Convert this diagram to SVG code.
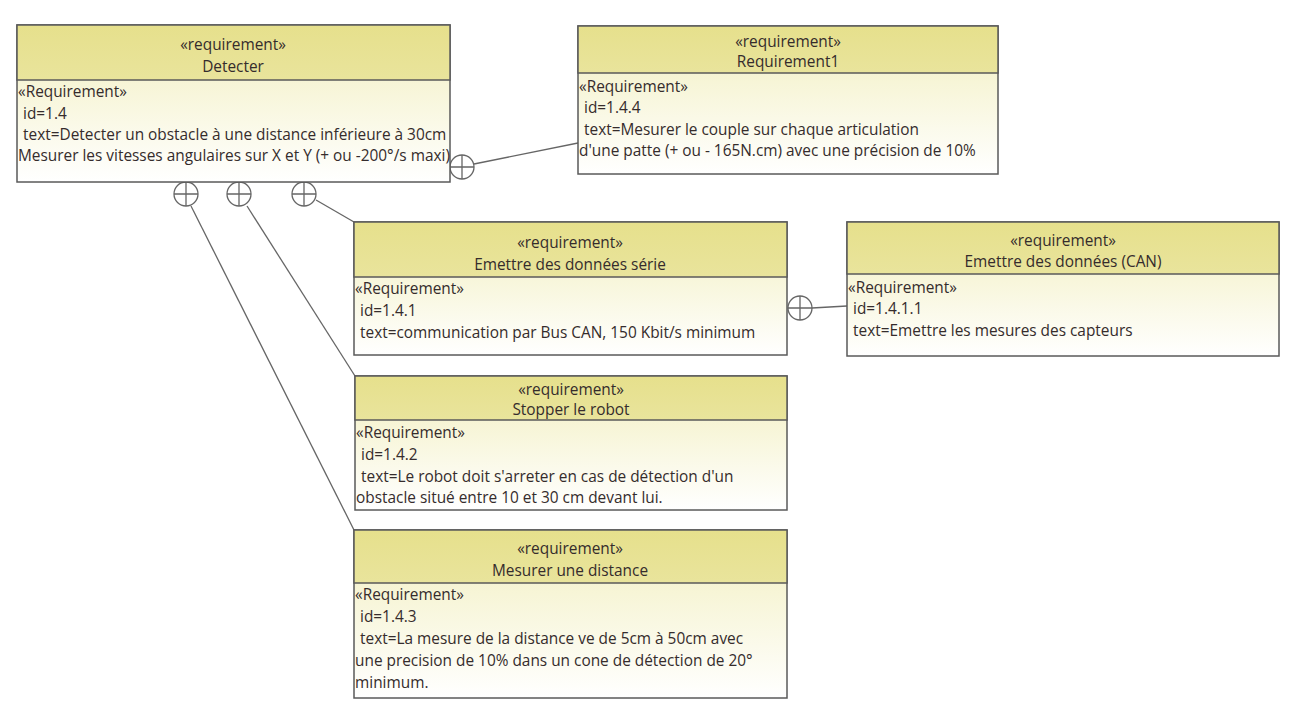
<svg xmlns="http://www.w3.org/2000/svg" width="1292" height="711" viewBox="0 0 1292 711">
<defs>
<linearGradient id="body" x1="0" y1="0" x2="0" y2="1">
<stop offset="0" stop-color="#f2efbf"/>
<stop offset="1" stop-color="#ffffff"/>
</linearGradient>
<linearGradient id="head" x1="0" y1="0" x2="0" y2="1">
<stop offset="0" stop-color="#e6e08c"/>
<stop offset="1" stop-color="#e9e49c"/>
</linearGradient>
</defs>
<style>
.box{fill:url(#body);stroke:#5a5a5a;stroke-width:1.5}
.hd{fill:url(#head);stroke:#5a5a5a;stroke-width:1.5}
text{font-family:"Open Sans","Noto Sans","DejaVu Sans",sans-serif;font-size:15.4px;fill:#352c2c}
.c{text-anchor:middle}
.ln{fill:none;stroke:#666;stroke-width:1.3}
.cc{fill:#fff;stroke:#666;stroke-width:1.3}
</style>
<rect width="1292" height="711" fill="#fff"/>
<g id="connectors">
<line class="ln" x1="474" y1="164" x2="578" y2="143"/>
<line class="ln" x1="316" y1="200" x2="354" y2="222"/>
<line class="ln" x1="247" y1="206" x2="355" y2="376"/>
<line class="ln" x1="191" y1="206" x2="354" y2="530"/>
<line class="ln" x1="812" y1="308" x2="847" y2="306"/>
<g id="c1"><circle class="cc" cx="462" cy="167" r="12"/><path class="ln" d="M450 167H474M462 155V179"/></g>
<g id="c2"><circle class="cc" cx="186" cy="194" r="12"/><path class="ln" d="M174 194H198M186 182V206"/></g>
<g id="c3"><circle class="cc" cx="239" cy="194" r="12"/><path class="ln" d="M227 194H251M239 182V206"/></g>
<g id="c4"><circle class="cc" cx="304" cy="194" r="12"/><path class="ln" d="M292 194H316M304 182V206"/></g>
<g id="c5"><circle class="cc" cx="800" cy="308" r="12"/><path class="ln" d="M788 308H812M800 296V320"/></g>
</g>
<g id="detecter">
<rect class="box" x="17" y="25" width="433" height="157"/>
<rect class="hd" x="17" y="25" width="433" height="55"/>
<text class="c" x="233" y="50">«requirement»</text>
<text class="c" x="233" y="72">Detecter</text>
<text x="18" y="97">«Requirement»</text>
<text x="23" y="119">id=1.4</text>
<text x="23" y="140">text=Detecter un obstacle à une distance inférieure à 30cm</text>
<text x="18" y="161">Mesurer les vitesses angulaires sur X et Y (+ ou -200°/s maxi)</text>
</g>
<g id="requirement1">
<rect class="box" x="578" y="26" width="420" height="148"/>
<rect class="hd" x="578" y="26" width="420" height="47"/>
<text class="c" x="788" y="47">«requirement»</text>
<text class="c" x="788" y="67">Requirement1</text>
<text x="579" y="92">«Requirement»</text>
<text x="584" y="113">id=1.4.4</text>
<text x="584" y="135">text=Mesurer le couple sur chaque articulation</text>
<text x="579" y="156">d'une patte (+ ou - 165N.cm) avec une précision de 10%</text>
</g>
<g id="emettre-serie">
<rect class="box" x="354" y="222" width="433" height="133"/>
<rect class="hd" x="354" y="222" width="433" height="55"/>
<text class="c" x="570" y="248">«requirement»</text>
<text class="c" x="570" y="270">Emettre des données série</text>
<text x="355" y="294">«Requirement»</text>
<text x="360" y="316">id=1.4.1</text>
<text x="360" y="338">text=communication par Bus CAN, 150 Kbit/s minimum</text>
</g>
<g id="emettre-can">
<rect class="box" x="847" y="222" width="432" height="134"/>
<rect class="hd" x="847" y="222" width="432" height="52"/>
<text class="c" x="1063" y="246">«requirement»</text>
<text class="c" x="1063" y="267">Emettre des données (CAN)</text>
<text x="848" y="293">«Requirement»</text>
<text x="853" y="314">id=1.4.1.1</text>
<text x="853" y="336">text=Emettre les mesures des capteurs</text>
</g>
<g id="stopper">
<rect class="box" x="355" y="376" width="432" height="134"/>
<rect class="hd" x="355" y="376" width="432" height="44"/>
<text class="c" x="571" y="395">«requirement»</text>
<text class="c" x="571" y="415">Stopper le robot</text>
<text x="356" y="438">«Requirement»</text>
<text x="361" y="460">id=1.4.2</text>
<text x="361" y="482">text=Le robot doit s'arreter en cas de détection d'un</text>
<text x="356" y="503">obstacle situé entre 10 et 30 cm devant lui.</text>
</g>
<g id="mesurer">
<rect class="box" x="354" y="530" width="433" height="168"/>
<rect class="hd" x="354" y="530" width="433" height="53"/>
<text class="c" x="570" y="554">«requirement»</text>
<text class="c" x="570" y="576">Mesurer une distance</text>
<text x="355" y="600">«Requirement»</text>
<text x="360" y="622">id=1.4.3</text>
<text x="360" y="644">text=La mesure de la distance ve de 5cm à 50cm avec</text>
<text x="355" y="666">une precision de 10% dans un cone de détection de 20°</text>
<text x="355" y="688">minimum.</text>
</g>
</svg>
